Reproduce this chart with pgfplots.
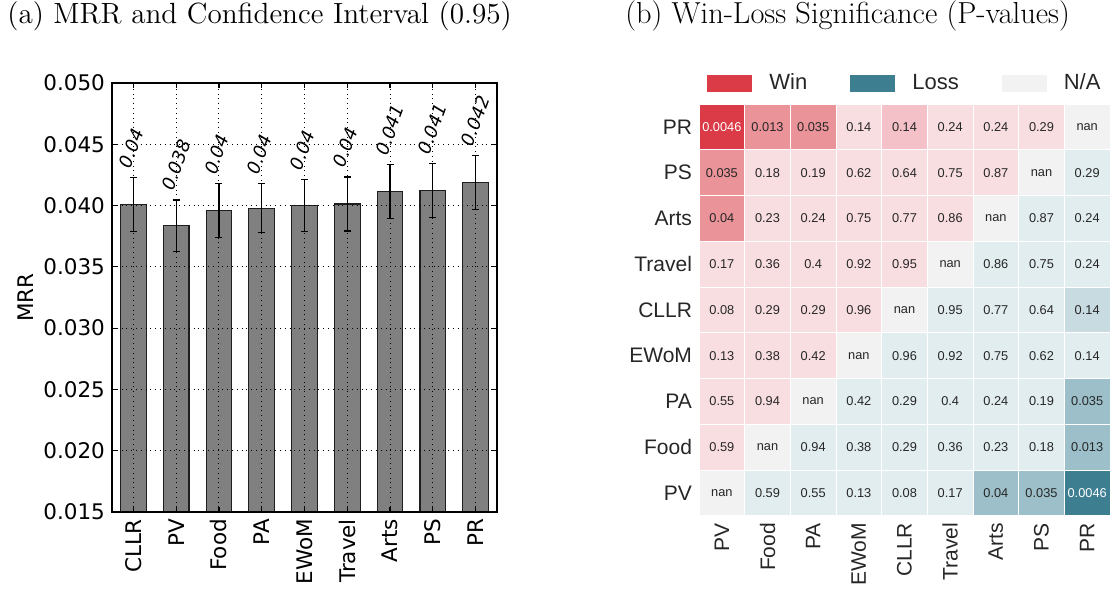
\documentclass[border=0pt]{standalone}
\usepackage{fontspec}
\usepackage{pgfplots}
\usepackage{pgfplotstable}
\pgfplotsset{compat=1.18}

\newfontfamily\dejavu{DejaVu Sans}
\newfontfamily\libsans{Liberation Sans}

\definecolor{barfill}{RGB}{128,128,128}
\definecolor{barline}{RGB}{30,30,30}
\definecolor{labgray}{RGB}{38,38,38}
% heatmap palette
\definecolor{cN}{RGB}{242,242,242}
\definecolor{cR0}{RGB}{248,221,225}
\definecolor{cR1}{RGB}{243,193,199}
\definecolor{cR2}{RGB}{234,147,153}
\definecolor{cR3}{RGB}{219,58,71}
\definecolor{cB0}{RGB}{226,237,239}
\definecolor{cB1}{RGB}{200,219,225}
\definecolor{cB2}{RGB}{156,191,201}
\definecolor{cB3}{RGB}{62,126,145}

% MRR with half-width of the 0.95 confidence interval
\pgfplotstableread{
x y e
0 0.04007 0.0022
1 0.03836 0.0021
2 0.03958 0.0022
3 0.03978 0.0020
4 0.04000 0.0021
5 0.04013 0.0022
6 0.04113 0.0022
7 0.04121 0.0022
8 0.04187 0.0022
}\mrrdata

% pairwise p-values: x = column model, y = row model, c = colour class, t = cell text
\pgfplotstableread{
x y c t
0 8 r3 {}
1 8 r2 0.013
2 8 r2 0.035
3 8 r0 0.14
4 8 r1 0.14
5 8 r0 0.24
6 8 r0 0.24
7 8 r0 0.29
8 8 n nan
0 7 r2 0.035
1 7 r0 0.18
2 7 r0 0.19
3 7 r0 0.62
4 7 r0 0.64
5 7 r0 0.75
6 7 r0 0.87
7 7 n nan
8 7 b0 0.29
0 6 r2 0.04
1 6 r0 0.23
2 6 r0 0.24
3 6 r0 0.75
4 6 r0 0.77
5 6 r0 0.86
6 6 n nan
7 6 b0 0.87
8 6 b0 0.24
0 5 r0 0.17
1 5 r0 0.36
2 5 r0 0.4
3 5 r0 0.92
4 5 r0 0.95
5 5 n nan
6 5 b0 0.86
7 5 b0 0.75
8 5 b0 0.24
0 4 r0 0.08
1 4 r0 0.29
2 4 r0 0.29
3 4 r0 0.96
4 4 n nan
5 4 b0 0.95
6 4 b0 0.77
7 4 b0 0.64
8 4 b1 0.14
0 3 r0 0.13
1 3 r0 0.38
2 3 r0 0.42
3 3 n nan
4 3 b0 0.96
5 3 b0 0.92
6 3 b0 0.75
7 3 b0 0.62
8 3 b0 0.14
0 2 r0 0.55
1 2 r0 0.94
2 2 n nan
3 2 b0 0.42
4 2 b0 0.29
5 2 b0 0.4
6 2 b0 0.24
7 2 b0 0.19
8 2 b2 0.035
0 1 r0 0.59
1 1 n nan
2 1 b0 0.94
3 1 b0 0.38
4 1 b0 0.29
5 1 b0 0.36
6 1 b0 0.23
7 1 b0 0.18
8 1 b2 0.013
0 0 n nan
1 0 b0 0.59
2 0 b0 0.55
3 0 b0 0.13
4 0 b0 0.08
5 0 b0 0.17
6 0 b2 0.04
7 0 b2 0.035
8 0 b3 {}
}\cells

% the two most significant cells carry white text
\pgfplotstableread{
x y t
0 8 0.0046
8 0 0.0046
}\darkcells

\begin{document}
\begin{tikzpicture}
\useasboundingbox (0,0) rectangle (556.5pt,296pt);

\node[anchor=base west, inner sep=0pt, font=\fontsize{14.6}{17}\selectfont]
  at (3.5pt,284pt) {(a) MRR and Confidence Interval (0.95)};
\node[anchor=base west, inner sep=0pt, font=\fontsize{15.2}{18}\selectfont]
  at (312.5pt,284pt) {(b) Win-Loss Significance (P-values)};

% ---------------- (a) bar chart ----------------
\begin{axis}[
  at={(56pt,40pt)}, anchor=south west,
  scale only axis, width=192.5pt, height=214.5pt,
  xmin=-0.5, xmax=8.5, ymin=0.015, ymax=0.050,
  xtick={0,1,2,3,4,5,6,7,8},
  xticklabels={CLLR,PV,Food,PA,EWoM,Travel,Arts,PS,PR},
  ytick={0.015,0.020,0.025,0.030,0.035,0.040,0.045,0.050},
  scaled y ticks=false,
  yticklabel style={/pgf/number format/.cd, fixed, fixed zerofill, precision=3, assume math mode=true},
  ticklabel style={font=\dejavu\fontsize{10.75}{12}\selectfont},
  xticklabel style={rotate=90, anchor=east},
  ylabel={MRR},
  ylabel style={font=\dejavu\fontsize{10.75}{12}\selectfont, at={(axis description cs:-0.224,0.5)}, anchor=center},
  tick align=inside, tick pos=both, major tick length=2.5pt,
  every tick/.style={black, line width=0.6pt},
  grid=major, grid style={dotted, black, line width=0.5pt},
  axis on top,
  axis line style={line width=0.6pt},
]
\addplot[ybar, bar width=0.6, bar shift=0pt, fill=barfill, draw=barline, line width=0.6pt,
  error bars/.cd, y dir=both, y explicit,
  error bar style={black, line width=0.6pt},
  error mark options={black, rotate=90, mark size=1.75pt, line width=0.6pt}]
  table[x=x, y=y, y error=e] {\mrrdata};
\addplot[draw=none, mark=none, point meta=explicit,
  nodes near coords={\pgfmathprintnumber[fixed,precision=3,assume math mode=true]{\pgfplotspointmeta}},
  nodes near coords style={font=\dejavu\itshape\fontsize{9}{10}\selectfont,
    anchor=base west, inner sep=0pt, xshift=-1.5pt, yshift=4pt, rotate=70}]
  table[x=x, y expr=\thisrow{y}+\thisrow{e}, meta=y] {\mrrdata};
\end{axis}

% ---------------- (b) heatmap ----------------
\begin{axis}[
  at={(349.5pt,38pt)}, anchor=south west,
  scale only axis, width=205.5pt, height=206pt,
  xmin=-0.5, xmax=8.5, ymin=-0.5, ymax=8.5,
  axis line style={draw=none},
  major tick length=0pt,
  xtick={0,1,2,3,4,5,6,7,8},
  ytick={0,1,2,3,4,5,6,7,8},
  xticklabels={PV,Food,PA,EWoM,CLLR,Travel,Arts,PS,PR},
  yticklabels={PV,Food,PA,EWoM,CLLR,Travel,Arts,PS,PR},
  ticklabel style={font=\libsans\fontsize{10.5}{12}\selectfont, text=labgray},
  xticklabel style={rotate=90, anchor=east},
  clip=false,
  legend columns=3,
  legend image code/.code={\fill[#1, draw=none] (0pt,-4.25pt) rectangle (22.5pt,4.25pt); \path (29pt,0pt);},
  legend style={draw=none, fill=none, at={(rel axis cs:0.0195,1)}, anchor=west, yshift=10.25pt,
    font=\libsans\fontsize{11}{12}\selectfont, text=labgray, inner sep=0pt,
    cells={anchor=west},
    /tikz/every even column/.append style={column sep=19.5pt}},
]
\addlegendimage{fill=cR3, draw=none}
\addlegendentry{Win}
\addlegendimage{fill=cB3, draw=none}
\addlegendentry{Loss}
\addlegendimage{fill=cN, draw=none}
\addlegendentry{N/A}

\addplot[forget plot, scatter, only marks, mark size=11.42pt, point meta=explicit symbolic,
  scatter/classes={
    n={mark=square*, fill=cN, draw=white, line width=0.5pt},
    r0={mark=square*, fill=cR0, draw=white, line width=0.5pt},
    r1={mark=square*, fill=cR1, draw=white, line width=0.5pt},
    r2={mark=square*, fill=cR2, draw=white, line width=0.5pt},
    r3={mark=square*, fill=cR3, draw=white, line width=0.5pt},
    b0={mark=square*, fill=cB0, draw=white, line width=0.5pt},
    b1={mark=square*, fill=cB1, draw=white, line width=0.5pt},
    b2={mark=square*, fill=cB2, draw=white, line width=0.5pt},
    b3={mark=square*, fill=cB3, draw=white, line width=0.5pt}}]
  table[x=x, y=y, meta=c] {\cells};
\addplot[forget plot, draw=none, mark=none, point meta=explicit symbolic,
  nodes near coords,
  nodes near coords style={anchor=center, inner sep=0pt, text=labgray,
    font=\libsans\fontsize{6.4}{7}\selectfont}]
  table[x=x, y=y, meta=t] {\cells};
\addplot[forget plot, draw=none, mark=none, point meta=explicit symbolic,
  nodes near coords,
  nodes near coords style={anchor=center, inner sep=0pt, text=white,
    font=\libsans\fontsize{6.4}{7}\selectfont}]
  table[x=x, y=y, meta=t] {\darkcells};
\end{axis}
\end{tikzpicture}
\end{document}
